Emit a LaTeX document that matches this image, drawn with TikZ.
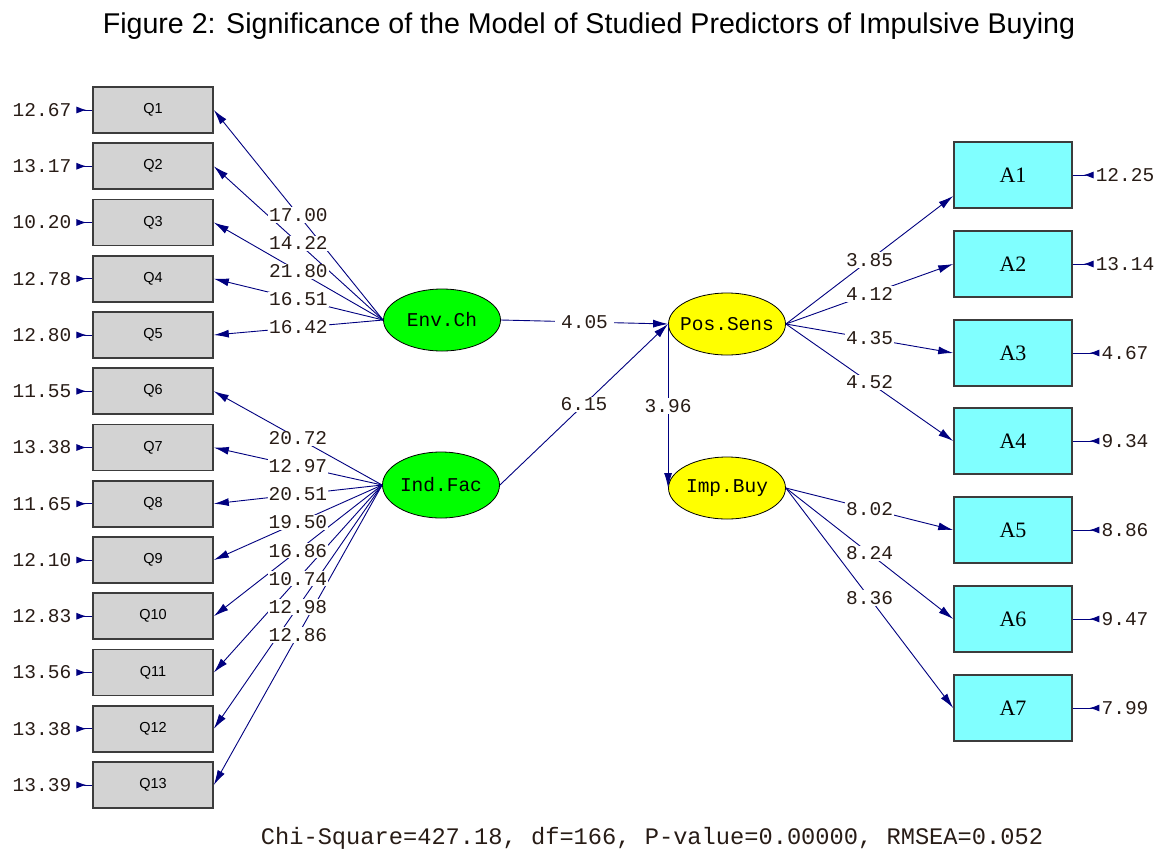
\documentclass[tikz,border=0pt]{standalone}
\usepackage{fontspec}
\setmainfont{Liberation Sans}
\newfontfamily\monof{Liberation Mono}
\newfontfamily\seriff{Liberation Serif}
\usetikzlibrary{arrows.meta,shapes.geometric}
\definecolor{navy}{RGB}{0,0,128}
\definecolor{qgray}{RGB}{211,211,211}
\definecolor{acyan}{RGB}{128,255,255}
\definecolor{lgreen}{RGB}{0,255,0}
\definecolor{lyellow}{RGB}{255,255,0}
\definecolor{txt}{RGB}{40,28,22}
\definecolor{bord}{RGB}{60,60,60}
\begin{document}
\begin{tikzpicture}[x=1pt,y=-1pt,
  qbox/.style={draw=bord,line width=1.6pt,fill=qgray,minimum width=120pt,minimum height=46pt,inner sep=0pt,font=\fontsize{14.5}{15}\selectfont},
  abox/.style={draw=bord,line width=1.6pt,fill=acyan,minimum width=118pt,minimum height=66pt,inner sep=0pt,font=\seriff\fontsize{22}{24}\selectfont},
  lat/.style={ellipse,draw=black,line width=0.8pt,minimum width=117pt,minimum height=62pt,inner sep=0pt,font=\monof\fontsize{19.5}{20}\selectfont},
  conn/.style={draw=navy,line width=0.9pt,-{Latex[length=15pt,width=8pt]}},
  errarr/.style={draw=navy,line width=1pt,{Latex[reversed,length=10pt,width=7pt]}-},
  num/.style={font=\monof\fontsize{19.5}{20}\selectfont,text=txt,inner sep=1pt},
  lbl/.style={num,fill=white},
]
\fill[white] (0,0) rectangle (1162,855);
\node[font=\fontsize{28.6}{30}\selectfont,anchor=base] (title) at (589,33) {Figure 2: Significance of the Model of Studied Predictors of Impulsive Buying};

% latent variables
\node[lat,fill=lgreen] (Env) at (442,320) {\makebox[0pt]{Env.Ch}};
\node[lat,fill=lgreen,minimum height=66pt] (Ind) at (441,485) {\makebox[0pt]{Ind.Fac}};
\node[lat,fill=lyellow] (Pos) at (727,324) {\makebox[0pt]{Pos.Sens}};
\node[lat,fill=lyellow] (Imp) at (727,488) {\makebox[0pt]{Imp.Buy}};

% Q boxes with error terms
\foreach \i/\y/\e in {1/110/12.67,2/166.25/13.17,3/222.5/10.20,4/278.75/12.78,5/335/12.80,6/391.25/11.55,7/447.5/13.38,8/503.75/11.65,9/560/12.10,10/616.25/12.83,11/672.5/13.56,12/728.75/13.38,13/785/13.39}{
  \node[qbox] (Q\i) at (153,\y) {Q\i};
  \node[num] (eQ\i) at (42,\y) {\e};
  \draw[errarr] ([xshift=4pt]eQ\i.east) -- (Q\i.west);
}

% A boxes with error terms
\foreach \i/\y/\e in {1/175/12.25,2/264/13.14,3/353/4.67,4/441/9.34,5/530/8.86,6/619/9.47,7/708/7.99}{
  \node[abox] (A\i) at (1013,\y) {A\i};
  \node[num] (eA\i) at (1125,\y) {\e};
  \draw[errarr] ([xshift=-1pt]eA\i.west) -- (A\i.east);
}

% connectors
\foreach \i in {1,...,5}{ \draw[conn] (Env.west) -- (Q\i.east); }
\foreach \i in {6,...,13}{ \draw[conn] (Ind.west) -- (Q\i.east); }
\draw[conn] (Env.east) -- (Pos.west);
\draw[conn] (Ind.east) -- (Pos.west);
\draw[conn] (Pos.west) -- (Imp.west);
\draw[conn] (Pos.east) -- ([yshift=-21pt]A1.west);
\foreach \i in {2,3,4}{ \draw[conn] (Pos.east) -- (A\i.west); }
\foreach \i in {5,6,7}{ \draw[conn] (Imp.east) -- (A\i.west); }

% labels
\foreach \i/\v in {1/17.00,2/14.22,3/21.80,4/16.51,5/16.42}{
  \path (Env.west) -- (Q\i.east) node[lbl,pos=0.5] {\v};
}
\foreach \i/\v in {6/20.72,7/12.97,8/20.51,9/19.50,10/16.86,11/10.74,12/12.98,13/12.86}{
  \path (Ind.west) -- (Q\i.east) node[lbl,pos=0.5] {\v};
}
\path (Env.east) -- (Pos.west) node[lbl,pos=0.5,inner xsep=6pt] {4.05};
\path (Ind.east) -- (Pos.west) node[lbl,pos=0.5] {6.15};
\path (Pos.west) -- (Imp.west) node[lbl,pos=0.5] {3.96};
\path (Pos.east) -- ([yshift=-21pt]A1.west) node[lbl,pos=0.5] {3.85};
\foreach \i/\v in {2/4.12,3/4.35,4/4.52}{
  \path (Pos.east) -- (A\i.west) node[lbl,pos=0.5] {\v};
}
\foreach \i/\v in {5/8.02,6/8.24,7/8.36}{
  \path (Imp.east) -- (A\i.west) node[lbl,pos=0.5] {\v};
}

\node[font=\monof\fontsize{23.7}{25}\selectfont,text=txt,anchor=base] (stats) at (652,844) {Chi-Square=427.18, df=166, P-value=0.00000, RMSEA=0.052};
\end{tikzpicture}
\end{document}
